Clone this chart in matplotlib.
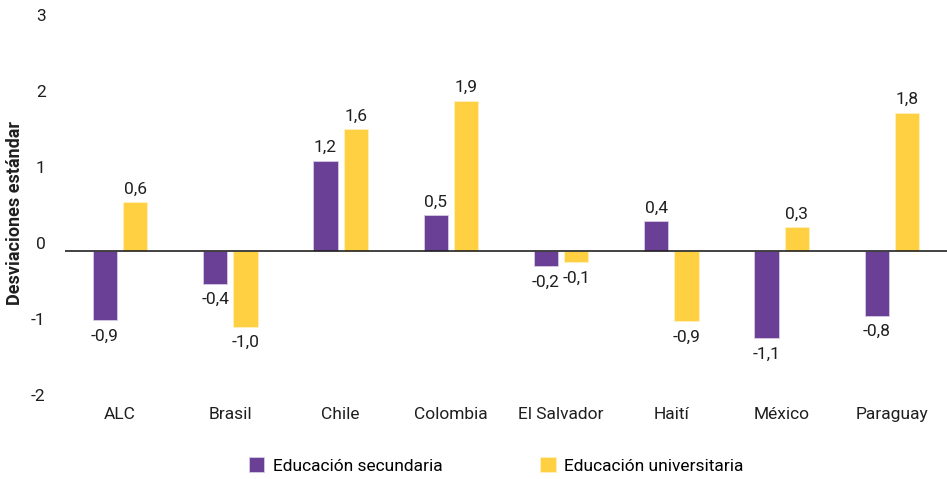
import matplotlib
matplotlib.use("Agg")
import matplotlib.pyplot as plt
import matplotlib.transforms as mtransforms
import numpy as np

plt.rcParams["font.family"] = ["Roboto", "DejaVu Sans"]

# values (standard deviations)
countries = ["ALC", "Brasil", "Chile", "Colombia", "El Salvador", "Haití", "México", "Paraguay"]
secundaria = [-0.91, -0.43, 1.19, 0.47, -0.20, 0.39, -1.15, -0.855]
universitaria = [0.645, -1.00, 1.60, 1.98, -0.15, -0.925, 0.31, 1.82]
secundaria_labels = ["-0,9", "-0,4", "1,2", "0,5", "-0,2", "0,4", "-1,1", "-0,8"]
universitaria_labels = ["0,6", "-1,0", "1,6", "1,9", "-0,1", "-0,9", "0,3", "1,8"]
y_ticks = [-2, -1, 0, 1, 2, 3]

PURPLE = "#6a3f96"
YELLOW = "#ffd042"
TEXT = "#1f1f1f"

fig = plt.figure(figsize=(9.47, 4.79), dpi=100)
ax = fig.add_axes([0.0686, 0.1587, 0.9314, 0.7933])

x = np.arange(len(countries))
width = 0.22
offset = 0.138

bars_sec = ax.bar(x - offset, secundaria, width, color=PURPLE, edgecolor="#d8cce6",
                  linewidth=0.6, label="Educación secundaria", zorder=2)
bars_uni = ax.bar(x + offset, universitaria, width, color=YELLOW, edgecolor="#fff0c0",
                  linewidth=0.6, label="Educación universitaria", zorder=2)

ax.axhline(0, color="#222222", linewidth=1.2, zorder=3)

for bars, labels in ((bars_sec, secundaria_labels), (bars_uni, universitaria_labels)):
    for bar, text in zip(bars, labels):
        h = bar.get_height()
        xc = bar.get_x() + bar.get_width() / 2
        if h >= 0:
            ax.annotate(text, (xc, h), xytext=(0, 4), textcoords="offset points",
                        ha="center", va="bottom", fontsize=12.5, color=TEXT)
        else:
            ax.annotate(text, (xc, h), xytext=(0, -6), textcoords="offset points",
                        ha="center", va="top", fontsize=12.5, color=TEXT)

ax.set_xlim(-0.5, 7.5)
ax.set_ylim(-2, 3)
ax.set_yticks(y_ticks)
ax.set_yticklabels([str(t) for t in y_ticks], fontsize=12.5, color=TEXT)
ax.set_xticks(x)
ax.set_xticklabels(countries, fontsize=12.5, color=TEXT)
ax.tick_params(axis="y", length=0, pad=14)
ax.tick_params(axis="x", length=0, pad=3)

# tick labels sit a little above their gridline position in the reference
shift = mtransforms.ScaledTranslation(0, 8 / 100, fig.dpi_scale_trans)
for lbl in ax.get_yticklabels():
    lbl.set_transform(lbl.get_transform() + shift)
    lbl.set_horizontalalignment("right")

for side in ("top", "right", "bottom", "left"):
    ax.spines[side].set_visible(False)

ax.set_ylabel("Desviaciones estándar", fontsize=13, fontweight="bold", color=TEXT)
ax.yaxis.set_label_coords(-0.047, 0.5)

fig.legend(handles=[bars_sec, bars_uni], loc="center", bbox_to_anchor=(0.524, 0.028),
           ncol=2, frameon=False, fontsize=12.5, handlelength=0.9, handleheight=0.9,
           handletextpad=0.5, columnspacing=5.6)

fig.savefig("out.png", dpi=100)
